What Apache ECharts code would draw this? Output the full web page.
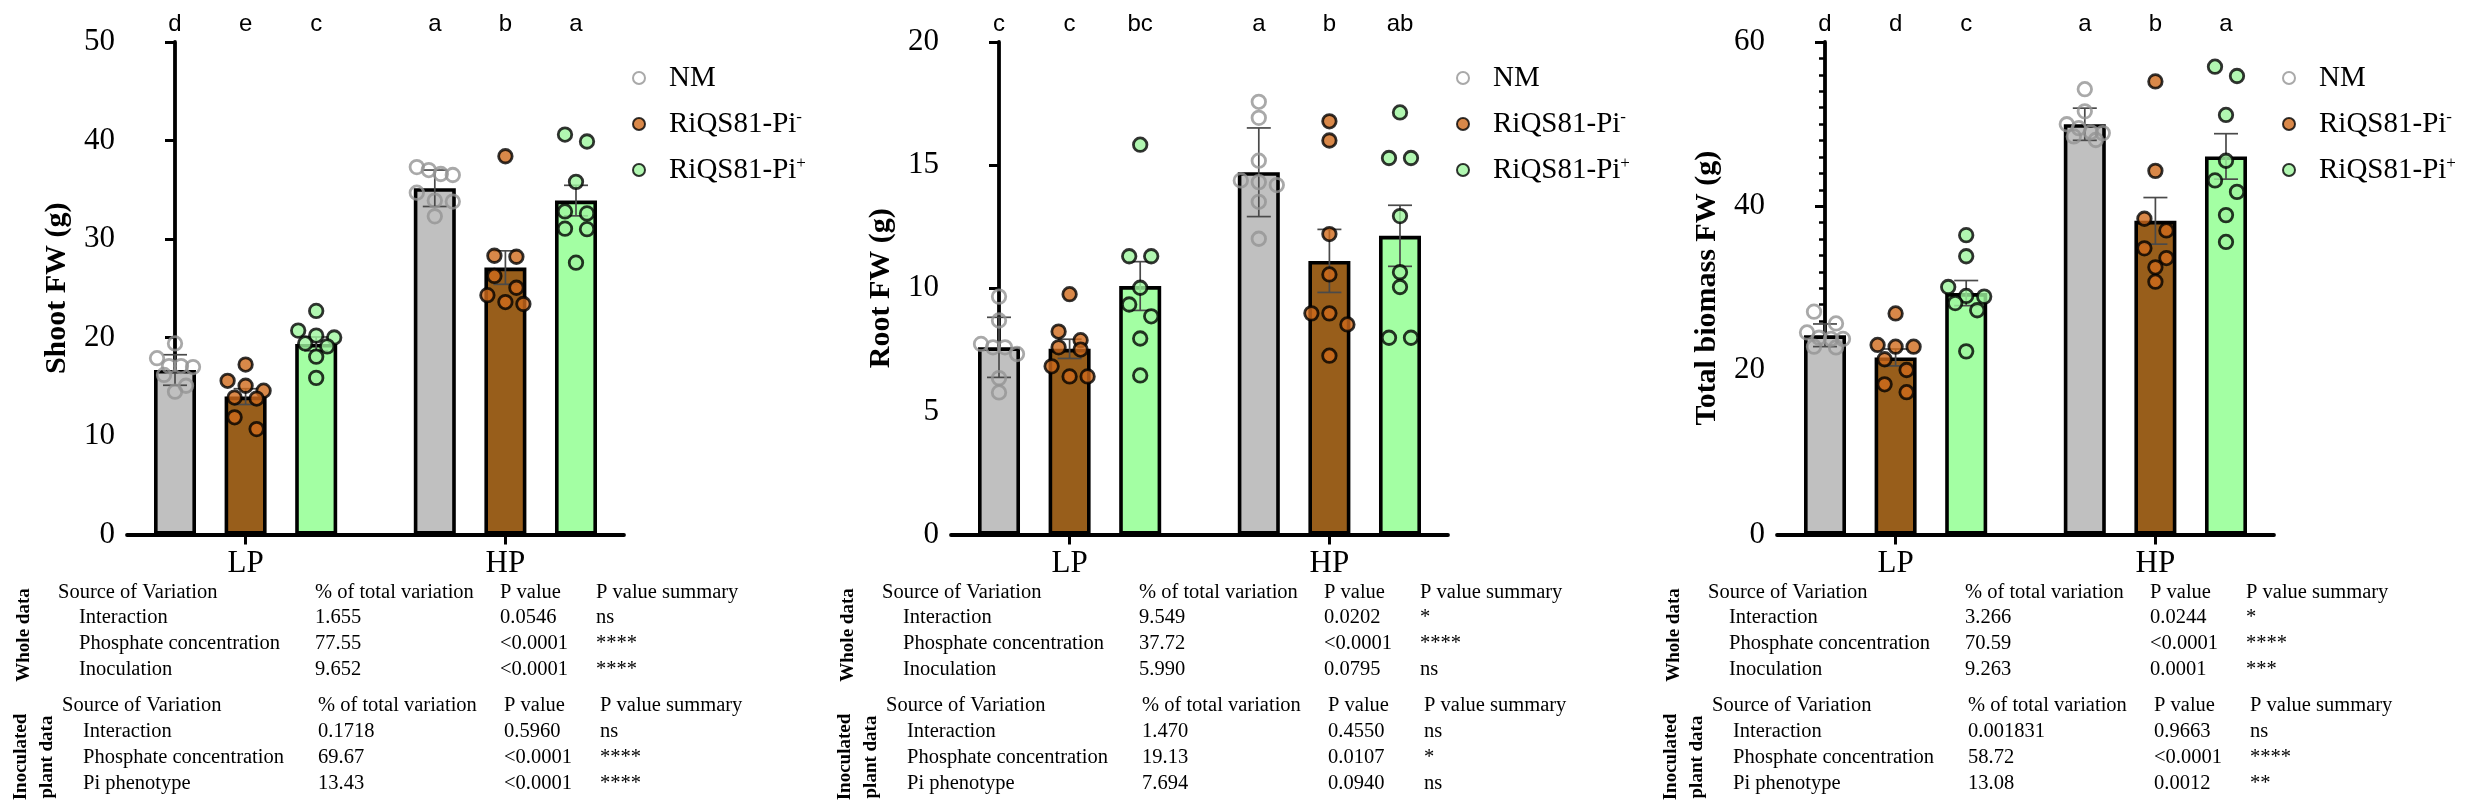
<!DOCTYPE html>
<html>
<head>
<meta charset="utf-8">
<script src="https://cdn.jsdelivr.net/npm/echarts@6.0.0/dist/echarts.min.js"></script>
<style>
html, body { margin: 0; padding: 0; background: #fff; }
#main { width: 2468px; height: 804px; }
</style>
</head>
<body>
<div id="main"></div>
<script>
/* groups and treatments */
var groups = ['LP', 'HP'];
var treatments = ['NM', 'RiQS81-Pi-', 'RiQS81-Pi+'];

/* bar order in every panel: NM-LP, Pi- -LP, Pi+ -LP, NM-HP, Pi- -HP, Pi+ -HP */

/* panel 1: shoot FW (g) */
var shootMean = [16.7, 14.0, 19.35, 35.15, 27.1, 33.9];
var shootErr = [1.55, 0.8, 0.7, 1.85, 1.7, 1.55];
var shootLetters = ['d', 'e', 'c', 'a', 'b', 'a'];
var shootNM = [[19.4, 17.9, 17.1, 17.1, 17.0, 16.2, 15.1, 14.5], [37.3, 37.0, 36.6, 36.5, 34.7, 33.9, 33.8, 32.3]];
var shootPiMinus = [[17.25, 15.6, 15.1, 14.6, 13.9, 13.8, 11.9, 10.7], [38.4, 28.3, 28.2, 26.25, 25.05, 24.3, 23.6, 23.4]];
var shootPiPlus = [[22.7, 20.7, 20.2, 20.0, 19.4, 19.1, 18.05, 15.9], [40.6, 39.9, 35.8, 32.8, 32.6, 31.05, 31.0, 27.6]];

/* panel 2: root FW (g) */
var rootMean = [7.6, 7.54, 10.09, 14.71, 11.11, 12.13];
var rootErr = [1.22, 0.39, 0.99, 1.8, 1.28, 1.24];
var rootLetters = ['c', 'c', 'bc', 'a', 'b', 'ab'];
var rootNM = [[9.66, 8.69, 7.74, 7.6, 7.6, 7.33, 6.35, 5.77], [17.57, 16.92, 15.18, 14.38, 14.31, 14.19, 13.51, 12.01]];
var rootPiMinus = [[9.76, 8.24, 7.89, 7.6, 7.51, 6.83, 6.42, 6.42], [16.78, 16.0, 12.2, 10.56, 8.98, 8.98, 8.53, 7.26]];
var rootPiPlus = [[15.83, 11.3, 11.3, 10.02, 9.34, 8.86, 7.96, 6.46], [17.14, 15.29, 15.29, 12.93, 10.65, 10.05, 7.99, 7.99]];

/* panel 3: total biomass FW (g) */
var totalMean = [24.27, 21.57, 29.41, 49.98, 38.21, 46.06];
var totalErr = [1.38, 1.03, 1.53, 1.96, 2.84, 2.77];
var totalLetters = ['d', 'd', 'c', 'a', 'b', 'a'];
var totalNM = [[27.15, 25.71, 24.62, 23.97, 23.83, 23.83, 22.88, 22.79], [54.25, 51.55, 49.98, 49.5, 49.0, 48.9, 48.5, 48.06]];
var totalPiMinus = [[26.93, 23.09, 22.88, 22.88, 21.35, 20.04, 18.3, 17.34], [55.2, 44.3, 38.47, 37.04, 34.86, 33.68, 32.55, 30.8]];
var totalPiPlus = [[36.47, 33.9, 30.15, 29.06, 28.98, 28.19, 27.32, 22.31], [56.99, 55.86, 51.11, 45.53, 43.14, 41.74, 38.91, 35.64]];

/* two-way ANOVA tables */
var tableHead = ['Source of Variation', '% of total variation', 'P value', 'P value summary'];
var shootWhole = [['Interaction', '1.655', '0.0546', 'ns'], ['Phosphate concentration', '77.55', '<0.0001', '****'], ['Inoculation', '9.652', '<0.0001', '****']];
var shootInoc = [['Interaction', '0.1718', '0.5960', 'ns'], ['Phosphate concentration', '69.67', '<0.0001', '****'], ['Pi phenotype', '13.43', '<0.0001', '****']];
var rootWhole = [['Interaction', '9.549', '0.0202', '*'], ['Phosphate concentration', '37.72', '<0.0001', '****'], ['Inoculation', '5.990', '0.0795', 'ns']];
var rootInoc = [['Interaction', '1.470', '0.4550', 'ns'], ['Phosphate concentration', '19.13', '0.0107', '*'], ['Pi phenotype', '7.694', '0.0940', 'ns']];
var totalWhole = [['Interaction', '3.266', '0.0244', '*'], ['Phosphate concentration', '70.59', '<0.0001', '****'], ['Inoculation', '9.263', '0.0001', '***']];
var totalInoc = [['Interaction', '0.001831', '0.9663', 'ns'], ['Phosphate concentration', '58.72', '<0.0001', '****'], ['Pi phenotype', '13.08', '0.0012', '**']];

var panels = [
    {title: 'Shoot FW (g)', max: 50, step: 10, minor: false, mean: shootMean, err: shootErr, letters: shootLetters,
     pts: [shootNM, shootPiMinus, shootPiPlus], whole: shootWhole, inoc: shootInoc},
    {title: 'Root FW (g)', max: 20, step: 5, minor: false, mean: rootMean, err: rootErr, letters: rootLetters,
     pts: [rootNM, rootPiMinus, rootPiPlus], whole: rootWhole, inoc: rootInoc},
    {title: 'Total biomass FW (g)', max: 60, step: 20, minor: true, mean: totalMean, err: totalErr, letters: totalLetters,
     pts: [totalNM, totalPiMinus, totalPiPlus], whole: totalWhole, inoc: totalInoc}
];

/* layout */
var panelX = [0, 824, 1650];
var gridLeft = 127, gridTop = 42, gridW = 497, gridH = 492.5;
var xMin = -0.68, xMax = 6.36;
var barPos = [0, 1, 2, 3.68, 4.68, 5.68];
var groupPos = [1, 4.68];
var xUnit = gridW / (xMax - xMin);

var serif = 'Liberation Serif';
var sans = 'Liberation Sans';
var barColors = ['#C0C0C0', '#985E1B', '#A3FFA3'];
var dotStyles = [
    {color: 'rgba(255,255,255,0)', borderColor: '#939393', borderWidth: 2.8},
    {color: '#CF6A1B', borderColor: '#000', borderWidth: 2.8},
    {color: '#9DF59D', borderColor: '#000', borderWidth: 2.8}
];

/* spread points that sit at the same height into a row */
function swarm(vals, ymax) {
    var ypx = gridH / ymax;
    var sorted = vals.slice().sort(function (a, b) { return b - a; });
    var rows = [];
    sorted.forEach(function (v) {
        var row = rows[rows.length - 1];
        if (row && (row[0] - v) * ypx < 12) row.push(v); else rows.push([v]);
    });
    var out = [];
    rows.forEach(function (row) {
        var n = row.length;
        var span = Math.min(22 * (n - 1), 36);
        row.forEach(function (v, i) {
            var off = n > 1 ? (i / (n - 1) - 0.5) * span : 0;
            out.push([off / xUnit, v]);
        });
    });
    return out;
}

var option = {
    backgroundColor: '#fff',
    animation: false,
    grid: [], xAxis: [], yAxis: [], legend: [], series: [], graphic: []
};

panels.forEach(function (p, k) {
    var px = panelX[k];
    option.grid.push({left: px + gridLeft, top: gridTop, width: gridW, height: gridH});
    option.xAxis.push({
        gridIndex: k, type: 'value', min: xMin, max: xMax,
        splitLine: {show: false},
        axisLine: {lineStyle: {color: '#000', width: 3.8}},
        axisTick: {customValues: groupPos, length: 10, lineStyle: {color: '#000', width: 3}},
        axisLabel: {
            customValues: groupPos, margin: 14, color: '#000', fontFamily: serif, fontSize: 31,
            formatter: function (v) { return v < 3 ? groups[0] : groups[1]; }
        }
    });
    option.yAxis.push({
        gridIndex: k, type: 'value', min: 0, max: p.max, interval: p.step,
        name: p.title, nameLocation: 'middle', nameGap: 55,
        nameTextStyle: {color: '#000', fontFamily: serif, fontWeight: 'bold', fontSize: 30},
        splitLine: {show: false},
        axisLine: {show: true, lineStyle: {color: '#000', width: 3.8}},
        axisTick: {length: 10, lineStyle: {color: '#000', width: 3}},
        minorTick: {show: p.minor, splitNumber: 10, length: 6, lineStyle: {color: '#000', width: 2.5}},
        axisLabel: {margin: 12, color: '#000', fontFamily: serif, fontSize: 31}
    });

    // bars
    option.series.push({
        type: 'bar', xAxisIndex: k, yAxisIndex: k, barWidth: 42, silent: true, z: 2,
        itemStyle: {borderColor: '#000', borderWidth: 3.6},
        data: p.mean.map(function (m, i) {
            return {value: [barPos[i], m], itemStyle: {color: barColors[i % 3]}};
        })
    });

    // error bars
    option.series.push({
        type: 'custom', xAxisIndex: k, yAxisIndex: k, silent: true, z: 3,
        data: p.mean.map(function (m, i) { return [barPos[i], m - p.err[i], m + p.err[i]]; }),
        renderItem: function (params, api) {
            var lo = api.coord([api.value(0), api.value(1)]);
            var hi = api.coord([api.value(0), api.value(2)]);
            var st = {stroke: '#4a4a4a', lineWidth: 1.7};
            return {type: 'group', children: [
                {type: 'line', shape: {x1: lo[0], y1: lo[1], x2: hi[0], y2: hi[1]}, style: st},
                {type: 'line', shape: {x1: hi[0] - 12, y1: hi[1], x2: hi[0] + 12, y2: hi[1]}, style: st},
                {type: 'line', shape: {x1: lo[0] - 12, y1: lo[1], x2: lo[0] + 12, y2: lo[1]}, style: st}
            ]};
        }
    });

    // significance letters above each bar
    option.series.push({
        type: 'custom', xAxisIndex: k, yAxisIndex: k, silent: true, z: 5,
        data: barPos.map(function (x) { return [x, p.max]; }),
        renderItem: function (params, api) {
            var pt = api.coord([api.value(0), api.value(1)]);
            return {type: 'text', x: pt[0], y: pt[1] - 18, style: {
                text: p.letters[params.dataIndex], fill: '#000', fontFamily: sans, fontSize: 24,
                align: 'center', verticalAlign: 'middle'
            }};
        }
    });

    // individual plants
    treatments.forEach(function (name, t) {
        var data = [];
        groups.forEach(function (g, gi) {
            var cx = barPos[gi * 3 + t];
            swarm(p.pts[t][gi], p.max).forEach(function (o) { data.push([cx + o[0], o[1]]); });
        });
        option.series.push({
            type: 'scatter', name: name, xAxisIndex: k, yAxisIndex: k, z: 4,
            symbol: 'circle', symbolSize: 13.5, itemStyle: dotStyles[t], data: data
        });
    });

    option.legend.push({
        data: treatments, orient: 'vertical', left: px + 627, top: 58,
        itemWidth: 50, itemHeight: 12, itemGap: 16, selectedMode: false,
        textStyle: {
            color: '#000', fontFamily: serif, fontSize: 29, lineHeight: 30,
            rich: {
                b: {fontFamily: serif, fontSize: 29, lineHeight: 30, color: '#000'},
                s: {fontFamily: serif, fontSize: 17, lineHeight: 17, verticalAlign: 'top', color: '#000'}
            }
        },
        formatter: function (n) {
            if (n === 'NM') return '{b|NM}';
            return '{b|RiQS81-Pi}{s|' + n.slice(-1) + '}';
        }
    });

    // ANOVA tables under the chart
    var txt = function (s, x, y) {
        return {type: 'text', x: px + x, y: y, silent: true, style: {
            text: s, fill: '#000', fontFamily: serif, fontSize: 20.5, align: 'left', verticalAlign: 'middle'
        }};
    };
    var cols1 = [79, 315, 500, 596], cols2 = [83, 318, 504, 600];
    tableHead.forEach(function (h, c) {
        option.graphic.push(txt(h, c === 0 ? 58 : cols1[c], 593));
        option.graphic.push(txt(h, c === 0 ? 62 : cols2[c], 706));
    });
    p.whole.forEach(function (row, r) {
        row.forEach(function (s, c) { option.graphic.push(txt(s, cols1[c], 618 + r * 25.7)); });
    });
    p.inoc.forEach(function (row, r) {
        row.forEach(function (s, c) { option.graphic.push(txt(s, cols2[c], 732 + r * 26)); });
    });
    option.graphic.push({type: 'text', x: px + 24, y: 635, rotation: Math.PI / 2, silent: true, style: {
        text: 'Whole data', fill: '#000', fontFamily: serif, fontWeight: 'bold', fontSize: 19,
        align: 'center', verticalAlign: 'middle'
    }});
    option.graphic.push({type: 'text', x: px + 34, y: 757, rotation: Math.PI / 2, silent: true, style: {
        text: 'Inoculated\nplant data', fill: '#000', fontFamily: serif, fontWeight: 'bold', fontSize: 19,
        lineHeight: 26, align: 'center', verticalAlign: 'middle'
    }});
});

var chart = echarts.init(document.getElementById('main'));
chart.setOption(option);
</script>
</body>
</html>
